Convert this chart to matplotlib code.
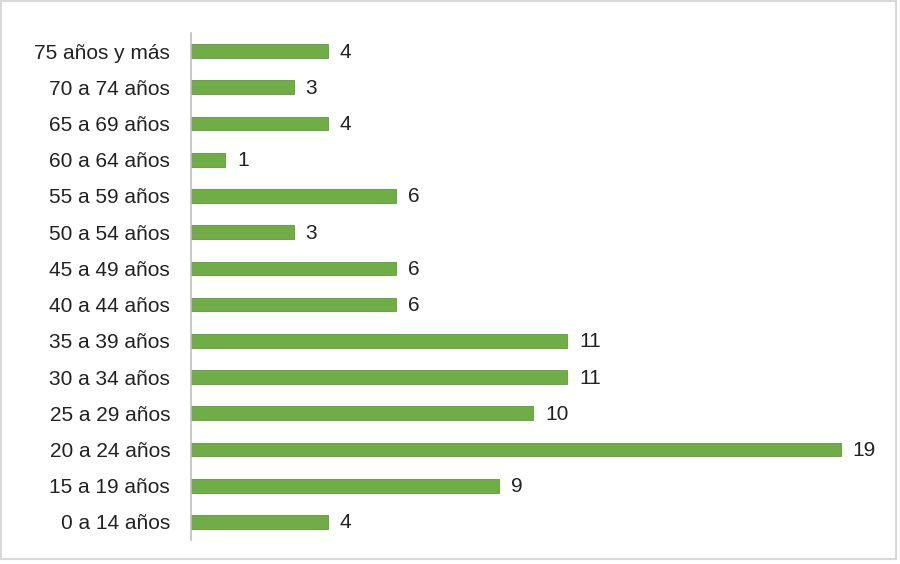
import matplotlib
matplotlib.use("Agg")
import matplotlib.pyplot as plt
from matplotlib.patches import Rectangle

categories = ["0 a 14 años", "15 a 19 años", "20 a 24 años", "25 a 29 años",
              "30 a 34 años", "35 a 39 años", "40 a 44 años", "45 a 49 años",
              "50 a 54 años", "55 a 59 años", "60 a 64 años", "65 a 69 años",
              "70 a 74 años", "75 años y más"]
values = [4, 9, 19, 10, 11, 11, 6, 6, 3, 6, 1, 4, 3, 4]

plt.rcParams['font.family'] = ['Liberation Sans', 'DejaVu Sans']

W, H = 900, 564
fig = plt.figure(figsize=(9, 5.64), dpi=100)
fig.patches.append(Rectangle((1 / W, 5 / H), 895 / W, 558 / H, transform=fig.transFigure,
                             fill=False, edgecolor='#d9d9d9', linewidth=1.5))

ax = fig.add_axes([191 / W, 24 / H, 685 / W, 507 / H])
y = list(range(len(categories)))
ax.barh(y, values, height=0.38, color='#70AD47', edgecolor='#5f9a3a', linewidth=0.6)
ax.set_xlim(0, 20.03)
ax.set_ylim(-0.5, len(categories) - 0.5)
ax.set_yticks(y)
ax.set_yticklabels(categories, fontsize=15, color='#222222')
ax.tick_params(axis='y', length=0, pad=15)
ax.set_xticks([])
for s in ['top', 'right', 'bottom']:
    ax.spines[s].set_visible(False)
ax.spines['left'].set_color('#bfbfbf')
ax.spines['left'].set_linewidth(1.2)

for yi, v in zip(y, values):
    ax.annotate(str(v), (v, yi), xytext=(12, -1), textcoords='offset pixels',
                va='center', ha='left', fontsize=15, color='#222222')

fig.savefig("out.png", dpi=100)
